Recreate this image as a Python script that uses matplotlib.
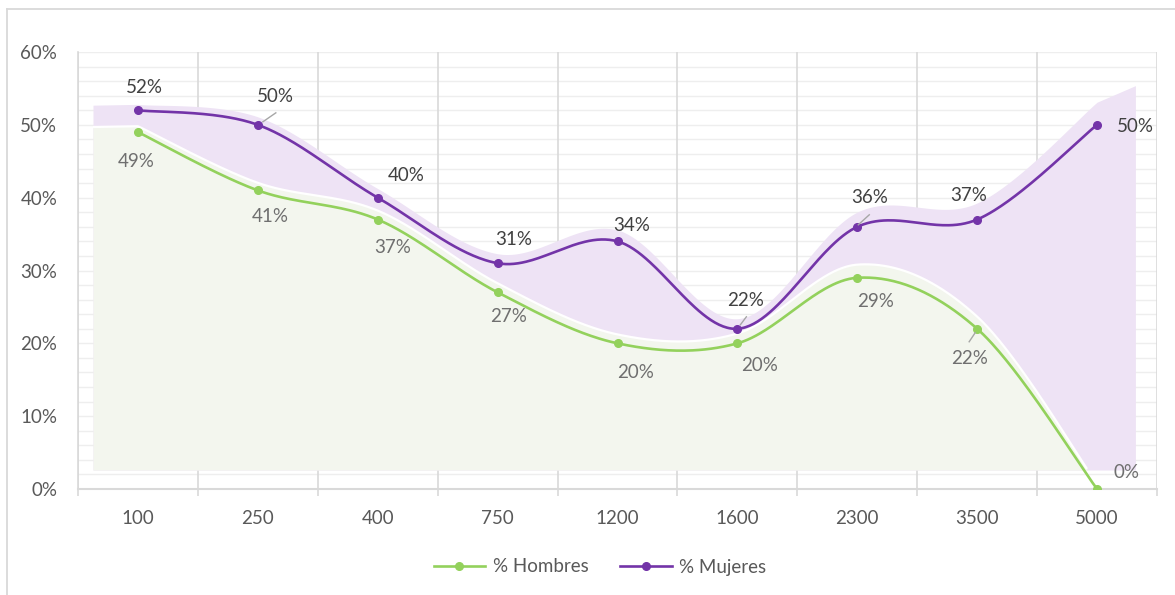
import numpy as np
import matplotlib
matplotlib.use("Agg")
import matplotlib.pyplot as plt
from matplotlib.lines import Line2D

plt.rcParams['font.family'] = ['Lato', 'DejaVu Sans']

categories = ["100", "250", "400", "750", "1200", "1600", "2300", "3500", "5000"]
hombres = [49, 41, 37, 27, 20, 20, 29, 22, 0]
mujeres = [52, 50, 40, 31, 34, 22, 36, 37, 50]
y_ticks = [0, 10, 20, 30, 40, 50, 60]
series_names = ["% Hombres", "% Mujeres"]

GREEN = "#93d15c"
PURPLE = "#7334a8"
GREEN_FILL = "#f3f6ee"
PURPLE_FILL = "#eee3f5"
FS = 13.5

# label offsets in pixels (dx, dy; dy positive = up) relative to each marker
off_m = [(6, 23), (18, 28), (28, 22), (16, 24), (14, 16), (8, 28), (12, 29), (-9, 24), (38, -2)]
off_h = [(-2, -29), (12, -26), (15, -28), (11, -24), (18, -29), (22, -22), (18, -24), (-8, -30), (29, 17)]
leader_m = {1: ((5, 3), (18, 12)), 5: ((3, 4), (9, 12)), 6: ((1, 2), (12, 12))}
leader_h = {7: ((-2, -4), (-8, -13))}


def excel_smooth(xs, ys, n=60):
    """Cubic Bezier smoothing in the style of spreadsheet 'smoothed lines'."""
    xs = np.asarray(xs, float)
    ys = np.asarray(ys, float)
    px = np.concatenate([[xs[0]], xs, [xs[-1]]])
    py = np.concatenate([[ys[0]], ys, [ys[-1]]])
    outx, outy = [], []
    t = np.linspace(0, 1, n)
    for i in range(1, len(px) - 2):
        p0 = np.array([px[i - 1], py[i - 1]])
        p1 = np.array([px[i], py[i]])
        p2 = np.array([px[i + 1], py[i + 1]])
        p3 = np.array([px[i + 2], py[i + 2]])
        c1 = p1 + (p2 - p0) / 6
        c2 = p2 - (p3 - p1) / 6
        pts = ((1 - t) ** 3)[:, None] * p1 + (3 * (1 - t) ** 2 * t)[:, None] * c1 \
            + (3 * (1 - t) * t ** 2)[:, None] * c2 + (t ** 3)[:, None] * p2
        outx.extend(pts[:, 0])
        outy.extend(pts[:, 1])
    return np.array(outx), np.array(outy)


W, H = 1175, 595
fig = plt.figure(figsize=(W / 100, H / 100), dpi=100)
fig.patch.set_facecolor("white")

ax_l, ax_r, ax_b, ax_t = 78, 1157, 489, 52
ax = fig.add_axes([ax_l / W, 1 - ax_b / H, (ax_r - ax_l) / W, (ax_b - ax_t) / H])
x = np.arange(len(categories))
n = len(categories)
ax.set_xlim(-0.5, n - 0.5)
ax.set_ylim(0, 60)

# outer chart frame (top and left edges)
fig.add_artist(Line2D([7 / W, 1.0], [1 - 9 / H, 1 - 9 / H], color="#d9d9d9", lw=1.3))
fig.add_artist(Line2D([7 / W, 7 / W], [0, 1 - 9 / H], color="#d9d9d9", lw=1.3))

# gridlines
for gy in np.arange(2, 61, 2):
    ax.axhline(gy, color="#eeeeee", lw=1.0, zorder=0.5)
for gx in np.arange(-0.5, n, 1.0):
    ax.axvline(gx, color="#d9d9d9", lw=1.2, zorder=0.6)


# soft bands that trail each smoothed series
def band(vals, right_ext):
    sx, sy = excel_smooth(x, vals)
    gx = np.linspace(-0.375, n - 1 + right_ext, 900)
    core = np.interp(gx, sx, sy)
    if right_ext > 0:
        slope = 0.5 * (vals[-1] - vals[-2])
        tail = gx > n - 1
        core[tail] = vals[-1] + slope * (gx[tail] - (n - 1))
    frac = (gx - gx[0]) / (gx[-1] - gx[0])
    top = core * (1 + 0.05 * frac) + 0.7
    return gx, top


base = 2.6
bx, btop = band(mujeres, 0.32)
ax.fill_between(bx, base, np.maximum(btop, base), color=PURPLE_FILL, lw=0, zorder=1)
gx_, gtop = band(hombres, 0.0)
gtop = np.maximum(gtop, base)
ax.fill_between(gx_, base, gtop, color=GREEN_FILL, lw=0, zorder=1.1)
edge = gtop > base + 0.05
ax.plot(gx_[edge], gtop[edge], color="white", lw=1.6, zorder=1.2, solid_capstyle="butt")

# smoothed series
for vals, col in ((hombres, GREEN), (mujeres, PURPLE)):
    sx, sy = excel_smooth(x, vals)
    ax.plot(sx, sy, color=col, lw=1.9, zorder=3, solid_capstyle="round")
    ax.plot(x, vals, "o", color=col, ms=5.5, zorder=4, mec=col)


def leader(i, v, spec):
    (a, b), (c, d) = spec
    p = ax.transData.transform((x[i], v))
    inv = ax.transData.inverted()
    q1 = inv.transform((p[0] + a, p[1] + b))
    q2 = inv.transform((p[0] + c, p[1] + d))
    ax.plot([q1[0], q2[0]], [q1[1], q2[1]], color="#a6a6a6", lw=1.0, zorder=4.5)


# data labels
for i, v in enumerate(mujeres):
    ax.annotate(f"{v}%", (x[i], v), xytext=off_m[i], textcoords="offset pixels",
                ha="center", va="center", fontsize=FS, color="#404040", zorder=5)
    if i in leader_m:
        leader(i, v, leader_m[i])
for i, v in enumerate(hombres):
    ax.annotate(f"{v}%", (x[i], v), xytext=off_h[i], textcoords="offset pixels",
                ha="center", va="center", fontsize=FS, color="#6f6f6f", zorder=5)
    if i in leader_h:
        leader(i, v, leader_h[i])

# axes styling
for s in ("top", "right"):
    ax.spines[s].set_visible(False)
ax.spines["left"].set_color("#d9d9d9")
ax.spines["left"].set_linewidth(1.2)
ax.spines["bottom"].set_color("#d9d9d9")
ax.spines["bottom"].set_linewidth(1.5)
ax.set_yticks(y_ticks)
ax.set_yticklabels([f"{t}%" for t in y_ticks])
ax.tick_params(axis="y", length=0, pad=15, labelsize=FS, labelcolor="#595959")
ax.set_xticks(np.arange(-0.5, n, 1.0))
ax.set_xticklabels([])
ax.tick_params(axis="x", which="major", length=5, width=1.2, color="#d9d9d9")
ax.set_xticks(x, minor=True)
ax.set_xticklabels(categories, minor=True)
ax.tick_params(axis="x", which="minor", length=0, pad=15, labelsize=FS, labelcolor="#595959")
for lab in ax.get_yticklabels():
    lab.set_ha("right")

# legend
handles = [Line2D([0], [0], color=GREEN, lw=1.9, marker="o", ms=5.5),
           Line2D([0], [0], color=PURPLE, lw=1.9, marker="o", ms=5.5)]
fig.legend(handles, series_names, loc="center", bbox_to_anchor=(600 / W, 1 - 567 / H),
           ncol=2, frameon=False, fontsize=FS, labelcolor="#595959",
           handlelength=2.75, columnspacing=1.7, handletextpad=0.4)

fig.savefig("out.png", dpi=100, facecolor="white")
